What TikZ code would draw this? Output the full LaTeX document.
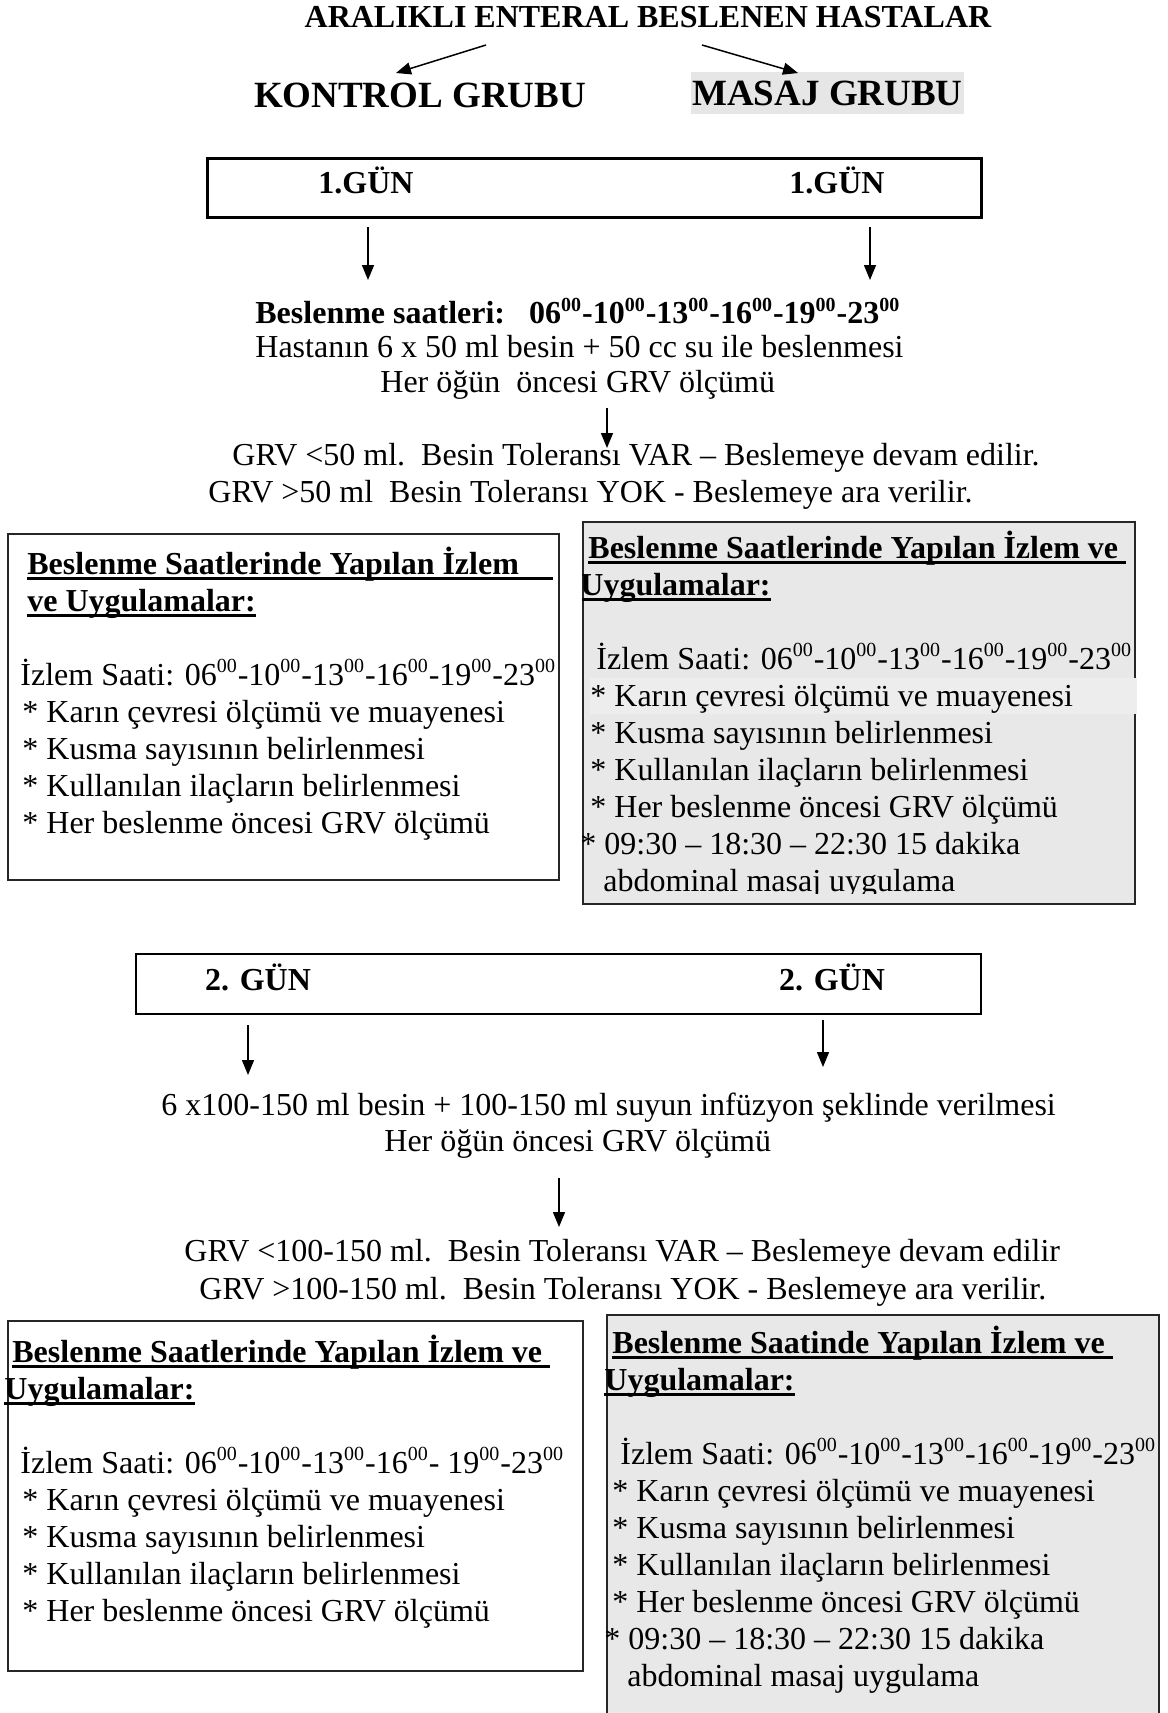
\documentclass[tikz,border=0pt]{standalone}
\usepackage{fontspec}
\setmainfont{Liberation Serif}
\usetikzlibrary{arrows.meta, positioning}

\definecolor{panelgray}{HTML}{E8E8E8}
\definecolor{rowgray}{HTML}{EDEDED}
\definecolor{masajgray}{HTML}{E6E6E6}

% thick underline for the panel headings
\newcommand{\ulthick}[1]{\setbox0=\hbox{#1}\rlap{\raisebox{-2.8pt}{\rule{\wd0}{1.3pt}}}\box0}
% hour with superscript minutes
\newcommand{\hr}[1]{#1\textsuperscript{\fontsize{10}{10}\selectfont 00}}

\begin{document}
\begin{tikzpicture}[x=0.5pt, y=-0.5pt,
			txt/.style={inner sep=0pt, font=\fontsize{16}{18.5}\selectfont},
			head/.style={inner sep=0pt, font=\fontsize{16}{18.5}\selectfont\bfseries},
			group/.style={inner sep=0pt, font=\fontsize{18.5}{20}\selectfont\bfseries},
			daybox/.style={draw, inner sep=0pt},
			panel/.style={draw=black!85, line width=0.8pt, inner sep=0pt, anchor=north west},
			paneltxt/.style={txt, align=left, anchor=base west},
			arrow/.style={-{Triangle[length=7.5pt, width=6pt]}, line width=0.75pt}
			]
			\useasboundingbox (0,0) rectangle (1167,1713);
			
			% title and groups
			\node[head] (title) at (648,17) {ARALIKLI ENTERAL BESLENEN HASTALAR};
			\node[group] (kontrol) at (420,95) {KONTROL GRUBU};
			\node[group, fill=masajgray, minimum width=136.5pt, minimum height=21pt] (masaj) at (827.5,93) {MASAJ GRUBU};
			\coordinate (tl) at (486,45);
			\coordinate (tr) at (702,45);
			\coordinate (kt) at (396,73);
			\coordinate (mt) at (798,73);
			\draw[arrow] (tl) -- (kt);
			\draw[arrow] (tr) -- (mt);
			
			% day 1
			\node[daybox, line width=1.5pt, minimum width=387pt, minimum height=29.5pt] (gun1) at (594,187.5) {};
			\node[head] (gun1k) at (366,180) {1.GÜN};
			\node[head] (gun1m) at (837,180) {1.GÜN};
			\coordinate (a1s) at (368,227);
			\coordinate (a1e) at (368,280);
			\coordinate (b1s) at (870,227);
			\coordinate (b1e) at (870,280);
			\draw[arrow] (a1s) -- (a1e);
			\draw[arrow] (b1s) -- (b1e);
			
			\node[head, anchor=west] (saat1) at (255,311) {Beslenme saatleri:\hspace{12pt}\hr{06}-\hr{10}-\hr{13}-\hr{16}-\hr{19}-\hr{23}};
			\node[txt, anchor=west] (besin1) at (255,347) {Hastanın 6 x 50 ml besin + 50 cc su ile beslenmesi};
			\node[txt, anchor=west] (grv1) at (380,385) {Her öğün\ \ öncesi GRV ölçümü};
			\coordinate (c1s) at (607,408);
			\coordinate (c1e) at (607,448);
			\draw[arrow] (c1s) -- (c1e);
			\node[txt, anchor=west] (var1) at (232,458) {GRV <50 ml.\ \ Besin Toleransı VAR – Beslemeye devam edilir.};
			\node[txt, anchor=west] (yok1) at (208,495) {GRV >50 ml\ \ Besin Toleransı YOK - Beslemeye ara verilir.};
			
			% day 1 panels
			\node[panel, minimum width=275.5pt, minimum height=173pt] (kpanel1) at (7,533) {};
			\node[paneltxt] (ktext1) at (20,833) {%
				\hspace*{3.5pt}\ulthick{\textbf{Beslenme Saatlerinde Yapılan İzlem\hspace{17pt}}}\\
				\hspace*{3.5pt}\ulthick{\textbf{ve Uygulamalar:}}\\
				\mbox{}\\
				İzlem Saati: \hr{06}-\hr{10}-\hr{13}-\hr{16}-\hr{19}-\hr{23}\\
				\hspace*{1pt}* Karın çevresi ölçümü ve muayenesi\\
				\hspace*{1pt}* Kusma sayısının belirlenmesi\\
				\hspace*{1pt}* Kullanılan ilaçların belirlenmesi\\
				\hspace*{1pt}* Her beslenme öncesi GRV ölçümü};
			
			\node[panel, fill=panelgray, minimum width=276pt, minimum height=191pt] (mpanel1) at (582,521) {};
			\fill[rowgray] (590,678) rectangle (1137,714);
			\begin{scope}
				\clip (582,521) rectangle (1134,893);
				\node[paneltxt] (mtext1) at (580,891) {%
					\hspace*{4pt}\ulthick{\textbf{Beslenme Saatlerinde Yapılan İzlem ve\ }}\\
					\ulthick{\textbf{Uygulamalar:}}\\
					\mbox{}\\
					\hspace*{8pt}İzlem Saati: \hr{06}-\hr{10}-\hr{13}-\hr{16}-\hr{19}-\hr{23}\\
					\hspace*{5pt}* Karın çevresi ölçümü ve muayenesi\\
					\hspace*{5pt}* Kusma sayısının belirlenmesi\\
					\hspace*{5pt}* Kullanılan ilaçların belirlenmesi\\
					\hspace*{5pt}* Her beslenme öncesi GRV ölçümü\\
					* 09:30 – 18:30 – 22:30 15 dakika\\
					\hspace*{11.5pt}abdominal masaj uygulama};
			\end{scope}
			
			% day 2
			\node[daybox, line width=0.8pt, minimum width=422.5pt, minimum height=30pt] (gun2) at (558.5,984) {};
			\node[head] (gun2k) at (258,977) {2. GÜN};
			\node[head] (gun2m) at (832,977) {2. GÜN};
			\coordinate (a2s) at (248,1025);
			\coordinate (a2e) at (248,1075);
			\coordinate (b2s) at (823,1020);
			\coordinate (b2e) at (823,1067);
			\draw[arrow] (a2s) -- (a2e);
			\draw[arrow] (b2s) -- (b2e);
			
			\node[txt, anchor=west] (besin2) at (161,1108) {6 x100-150 ml besin + 100-150 ml suyun infüzyon şeklinde verilmesi};
			\node[txt, anchor=west] (grv2) at (384,1144) {Her öğün öncesi GRV ölçümü};
			\coordinate (c2s) at (559,1178);
			\coordinate (c2e) at (559,1227);
			\draw[arrow] (c2s) -- (c2e);
			\node[txt, anchor=west] (var2) at (184,1254) {GRV <100-150 ml.\ \ Besin Toleransı VAR – Beslemeye devam edilir};
			\node[txt, anchor=west] (yok2) at (199,1292) {GRV >100-150 ml.\ \ Besin Toleransı YOK - Beslemeye ara verilir.};
			
			% day 2 panels
			\node[panel, minimum width=287.5pt, minimum height=175pt] (kpanel2) at (7,1320) {};
			\node[paneltxt] (ktext2) at (4,1621) {%
				\hspace*{4pt}\ulthick{\textbf{Beslenme Saatlerinde Yapılan İzlem ve\ }}\\
				\ulthick{\textbf{Uygulamalar:}}\\
				\mbox{}\\
				\hspace*{8pt}İzlem Saati: \hr{06}-\hr{10}-\hr{13}-\hr{16}- \hr{19}-\hr{23}\\
				\hspace*{9pt}* Karın çevresi ölçümü ve muayenesi\\
				\hspace*{9pt}* Kusma sayısının belirlenmesi\\
				\hspace*{9pt}* Kullanılan ilaçların belirlenmesi\\
				\hspace*{9pt}* Her beslenme öncesi GRV ölçümü};
			
			\node[panel, fill=panelgray, minimum width=276pt, minimum height=210pt] (mpanel2) at (606,1314) {};
			\node[paneltxt] (mtext2) at (604,1686) {%
				\hspace*{4pt}\ulthick{\textbf{Beslenme Saatinde Yapılan İzlem ve\ }}\\
				\ulthick{\textbf{Uygulamalar:}}\\
				\mbox{}\\
				\hspace*{8pt}İzlem Saati: \hr{06}-\hr{10}-\hr{13}-\hr{16}-\hr{19}-\hr{23}\\
				\hspace*{4pt}* Karın çevresi ölçümü ve muayenesi\\
				\hspace*{4pt}* Kusma sayısının belirlenmesi\\
				\hspace*{4pt}* Kullanılan ilaçların belirlenmesi\\
				\hspace*{4pt}* Her beslenme öncesi GRV ölçümü\\
				* 09:30 – 18:30 – 22:30 15 dakika\\
				\hspace*{11.5pt}abdominal masaj uygulama};
		\end{tikzpicture}
\end{document}
